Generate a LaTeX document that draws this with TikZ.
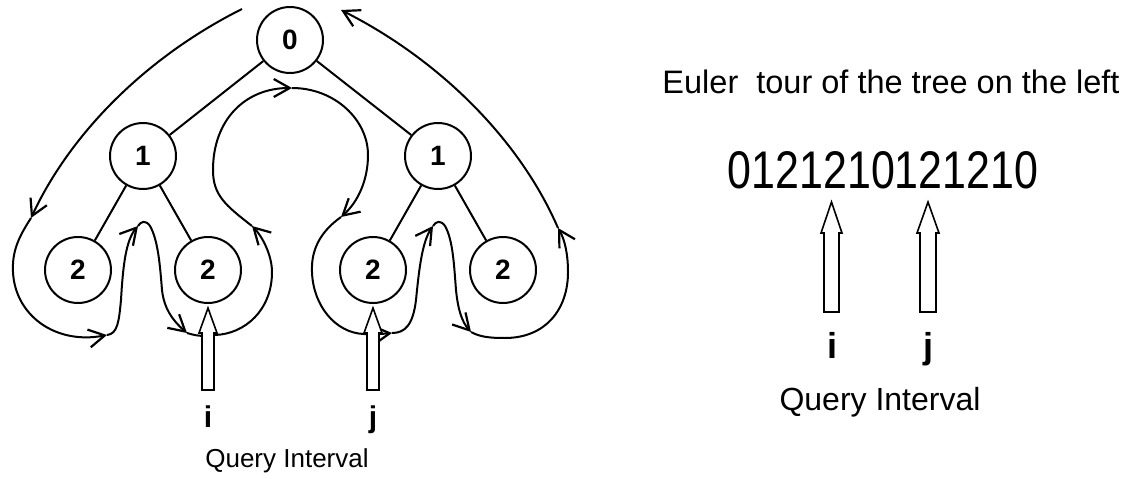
\documentclass[tikz,border=0pt]{standalone}
\usepackage{fontspec}
\setmainfont{Liberation Sans}
\usetikzlibrary{arrows.meta}
\begin{document}
\begin{tikzpicture}[x=1pt,y=-1pt,
  tnode/.style={circle, draw, line width=2pt, minimum size=66pt, inner sep=0pt, font=\fontsize{28}{30}\selectfont\bfseries},
  edge/.style={line width=2pt},
  tour/.style={line width=2pt, -{Straight Barb[length=16pt,width=18pt,line width=2.2pt]}},
  qarrow/.style={draw, line width=1.6pt, fill=white, line join=miter},
  lbl/.style={anchor=base, inner sep=0pt},
]
\useasboundingbox (0,0) rectangle (1132,479);
% tree
\node[tnode] (r)  at (290,40)  {0};
\node[tnode] (a)  at (143,156) {1};
\node[tnode] (b)  at (438,156) {1};
\node[tnode] (a1) at (78,270)  {2};
\node[tnode] (a2) at (208,270) {2};
\node[tnode] (b1) at (373,270) {2};
\node[tnode] (b2) at (503,270) {2};
\draw[edge] (r) -- (a);
\draw[edge] (r) -- (b);
\draw[edge] (a) -- (a1);
\draw[edge] (a) -- (a2);
\draw[edge] (b) -- (b1);
\draw[edge] (b) -- (b2);
% Euler tour
\coordinate (t0)  at (242,9);
\coordinate (t1)  at (31,218);
\coordinate (t2)  at (107,335);
\coordinate (t3)  at (138,226);
\coordinate (t4)  at (187,333);
\coordinate (t5)  at (252,226);
\coordinate (t6)  at (292,88);
\coordinate (t7)  at (341,217);
\coordinate (t8)  at (392,333);
\coordinate (t9)  at (433,226);
\coordinate (t10) at (471,332);
\coordinate (t11) at (558,228);
\coordinate (t12) at (341,10);
\draw[tour] (t0) .. controls (150,55) and (72,130) .. (t1);
\draw[tour] (t1) .. controls (18,238) and (12,252) .. (13,272) .. controls (15,315) and (55,345) .. (t2);
\draw[tour] (t2) .. controls (118,334) and (119,320) .. (121,300) .. controls (123,265) and (126,240) .. (t3);
\draw[tour] (t3) .. controls (141,221) and (146,220) .. (150,226) .. controls (158,240) and (160,265) .. (162,290) .. controls (164,308) and (172,320) .. (t4);
\draw[tour] (t4) .. controls (200,337) and (205,336) .. (215,335) .. controls (245,334) and (272,310) .. (272,272) .. controls (272,255) and (262,236) .. (t5);
\draw[tour] (t5) .. controls (225,205) and (213,195) .. (213,170) .. controls (213,120) and (245,88) .. (t6);
\draw[tour] (t6) .. controls (335,88) and (368,120) .. (368,155) .. controls (368,180) and (358,202) .. (t7);
\draw[tour] (t7) .. controls (320,232) and (311,250) .. (312,272) .. controls (313,305) and (335,333) .. (364,334) .. controls (375,334) and (383,334) .. (t8);
\draw[tour] (t8) .. controls (405,333) and (413,325) .. (416,300) .. controls (419,270) and (422,242) .. (t9);
\draw[tour] (t9) .. controls (436,221) and (441,220) .. (445,226) .. controls (453,240) and (454,265) .. (456,290) .. controls (458,310) and (462,322) .. (t10);
\draw[tour] (t10) .. controls (480,337) and (490,338) .. (505,338) .. controls (545,338) and (568,310) .. (568,272) .. controls (568,255) and (565,240) .. (t11);
\draw[tour] (t11) .. controls (520,140) and (440,60) .. (t12);
% query arrows (left)
\draw[qarrow] (202,390) -- (202,333) -- (199,333) -- (208,308) -- (217,333) -- (214,333) -- (214,390) -- cycle;
\draw[qarrow] (367,390) -- (367,333) -- (364,333) -- (373,308) -- (382,333) -- (379,333) -- (379,390) -- cycle;
\node[lbl, font=\fontsize{30}{32}\selectfont\bfseries] (li) at (208,427) {i};
\node[lbl, font=\fontsize{30}{32}\selectfont\bfseries] (lj) at (373,427) {j};
\node[lbl, font=\fontsize{26}{30}\selectfont] (lq) at (287,467) {Query Interval};
% right side
\node[lbl, font=\fontsize{32.5}{36}\selectfont] (title) at (891,93) {Euler~ tour of the tree on the left};
\node[lbl, font=\fontsize{53}{56}\selectfont] (seq) at (883,188) {\scalebox{0.81}[1]{0121210121210}};
\draw[qarrow] (824,312) -- (824,233) -- (821,233) -- (831.5,202) -- (842,233) -- (839,233) -- (839,312) -- cycle;
\draw[qarrow] (920,312) -- (920,233) -- (917,233) -- (928,202) -- (939,233) -- (936,233) -- (936,312) -- cycle;
\node[lbl, font=\fontsize{36}{38}\selectfont\bfseries] (ri) at (832,358) {i};
\node[lbl, font=\fontsize{36}{38}\selectfont\bfseries] (rj) at (928,358) {j};
\node[lbl, font=\fontsize{32}{36}\selectfont] (rq) at (880,410) {Query Interval};
\end{tikzpicture}
\end{document}
